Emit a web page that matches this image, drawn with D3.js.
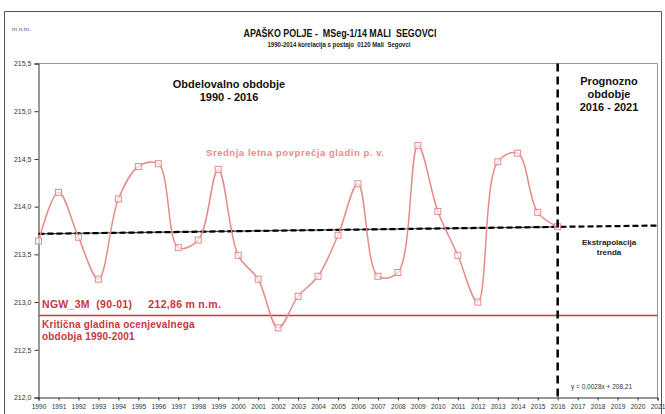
<!DOCTYPE html>
<html><head><meta charset="utf-8">
<script src="https://cdn.jsdelivr.net/npm/d3@7"></script>
<style>body{margin:0;background:#fff}svg{display:block;font-family:"Liberation Sans",Arial,sans-serif}</style>
</head><body>
<svg id="c" width="665" height="414"></svg>
<script>
const years = d3.range(1990, 2017);
const levels = [213.64,214.15,213.68,213.24,214.08,214.42,214.45,213.57,213.65,214.39,213.49,213.24,212.73,213.06,213.27,213.70,214.24,213.27,213.31,214.64,213.95,213.49,213.00,214.47,214.56,213.94,213.79];
const axisYears = d3.range(1990, 2022);
const yTicks = [212.0,212.5,213.0,213.5,214.0,214.5,215.0,215.5];
const trendYears = [1990, 2016, 2021];
const trendValues = [213.715, 213.788, 213.802];
const ngwLevel = 212.86;
const splitYear = 2016;

const svg = d3.select("#c");
const x = d3.scaleLinear().domain([1990, 2021]).range([38.5, 657.5]);
const y = d3.scaleLinear().domain([212, 215.5]).range([397.5, 63.5]);
const fmt = v => d3.format(".1f")(v).replace(".", ",");

// outer frame
svg.append("path").attr("d","M4.5,414 V11.5 H661.5 V414").attr("fill","none").attr("stroke","#555").attr("stroke-width",1);

// plot border (top/right)
svg.append("path").attr("d",`M${x.range()[0]},${y(215.5)} H${x(2021)} V${y(212)}`).attr("fill","none").attr("stroke","#999").attr("stroke-width",1);

// axes
const yAxis = svg.append("g").attr("transform",`translate(${x.range()[0]},0)`)
  .call(d3.axisLeft(y).tickValues(yTicks).tickFormat(fmt).tickSize(4).tickPadding(3));
const xAxis = svg.append("g").attr("transform",`translate(0,${y(212)})`)
  .call(d3.axisBottom(x).tickValues(axisYears).tickFormat(d3.format("d")).tickSize(3).tickPadding(4));
[yAxis,xAxis].forEach(g=>{
  g.select(".domain").attr("stroke","#333");
  g.selectAll(".tick line").attr("stroke","#333");
  g.selectAll("text").attr("fill","#333").attr("font-size",7).attr("font-family","Liberation Sans, Arial");
});
xAxis.selectAll("text").attr("font-size",6.6);

// NGW line
svg.append("line").attr("x1",x(1990)).attr("x2",x(2021)).attr("y1",y(ngwLevel)).attr("y2",y(ngwLevel))
  .attr("stroke","#c9363e").attr("stroke-width",1.4);

// trend line
const tline = d3.line().x((d,i)=>x(trendYears[i])).y(d=>y(d));
svg.append("path").attr("d",tline(trendValues.slice(0,2))).attr("fill","none").attr("stroke","#444").attr("stroke-width",1.2);
svg.append("path").attr("d",tline(trendValues)).attr("fill","none").attr("stroke","#000").attr("stroke-width",2.2).attr("stroke-dasharray","6,3");

// series
const sline = d3.line().x((d,i)=>x(years[i])).y(d=>y(d)).curve(d3.curveCatmullRom.alpha(0.5));
svg.append("path").attr("d",sline(levels)).attr("fill","none").attr("stroke","#e58a8a").attr("stroke-width",1.5);
svg.selectAll("rect.m").data(levels).join("rect").attr("class","m")
  .attr("x",(d,i)=>x(years[i])-3).attr("y",d=>y(d)-3).attr("width",6).attr("height",6)
  .attr("fill","#fff").attr("fill-opacity",0.6).attr("stroke","#e58a8a").attr("stroke-width",1);

// vertical split
svg.append("line").attr("x1",x(splitYear)).attr("x2",x(splitYear)).attr("y1",y(215.5)).attr("y2",y(212))
  .attr("stroke","#000").attr("stroke-width",2.5).attr("stroke-dasharray","8,5");

// texts
function txt(xp,yp,s,o){const t=svg.append("text").attr("x",xp).attr("y",yp).text(s);
  Object.entries(o||{}).forEach(([k,v])=>t.attr(k,v));return t;}
txt(12,31,"m n.m.",{"font-size":6,"fill":"#444"});
txt(340,37,"APAŠKO POLJE -  MSeg-1/14 MALI  SEGOVCI",{"font-size":10.5,"font-weight":"bold","text-anchor":"middle","fill":"#111","textLength":193,"lengthAdjust":"spacingAndGlyphs"}).attr("xml:space","preserve");
txt(339,47,"1990-2014 korelacija s postajo  0120 Mali  Segovci",{"font-size":7.2,"font-weight":"bold","text-anchor":"middle","fill":"#222","textLength":143,"lengthAdjust":"spacingAndGlyphs"}).attr("xml:space","preserve");
txt(229,88,"Obdelovalno obdobje",{"font-size":11,"font-weight":"bold","text-anchor":"middle","fill":"#111"});
txt(229,101,"1990 - 2016",{"font-size":11,"font-weight":"bold","text-anchor":"middle","fill":"#111"});
txt(609,85,"Prognozno",{"font-size":11,"font-weight":"bold","text-anchor":"middle","fill":"#111"});
txt(609,98,"obdobje",{"font-size":11,"font-weight":"bold","text-anchor":"middle","fill":"#111"});
txt(609,111,"2016 - 2021",{"font-size":11,"font-weight":"bold","text-anchor":"middle","fill":"#111"});
txt(206,156,"Srednja letna povprečja gladin p. v.",{"font-size":9.5,"font-weight":"bold","fill":"#e58a8a","letter-spacing":0.55});
txt(609,245,"Ekstrapolacija",{"font-size":8,"font-weight":"bold","text-anchor":"middle","fill":"#222"});
txt(609,255,"trenda",{"font-size":8,"font-weight":"bold","text-anchor":"middle","fill":"#222"});
txt(42,308,"NGW_3M  (90-01)     212,86 m n.m.",{"font-size":10.5,"font-weight":"bold","fill":"#c9363e","letter-spacing":0.3}).attr("xml:space","preserve");
txt(42,328,"Kritična gladina ocenjevalnega",{"font-size":10,"font-weight":"bold","fill":"#c9363e","letter-spacing":0.2});
txt(42,340,"obdobja 1990-2001",{"font-size":10,"font-weight":"bold","fill":"#c9363e","letter-spacing":0.2});
txt(571,389,"y = 0,0028x + 208,21",{"font-size":6.5,"fill":"#333"});
</script>
</body></html>
